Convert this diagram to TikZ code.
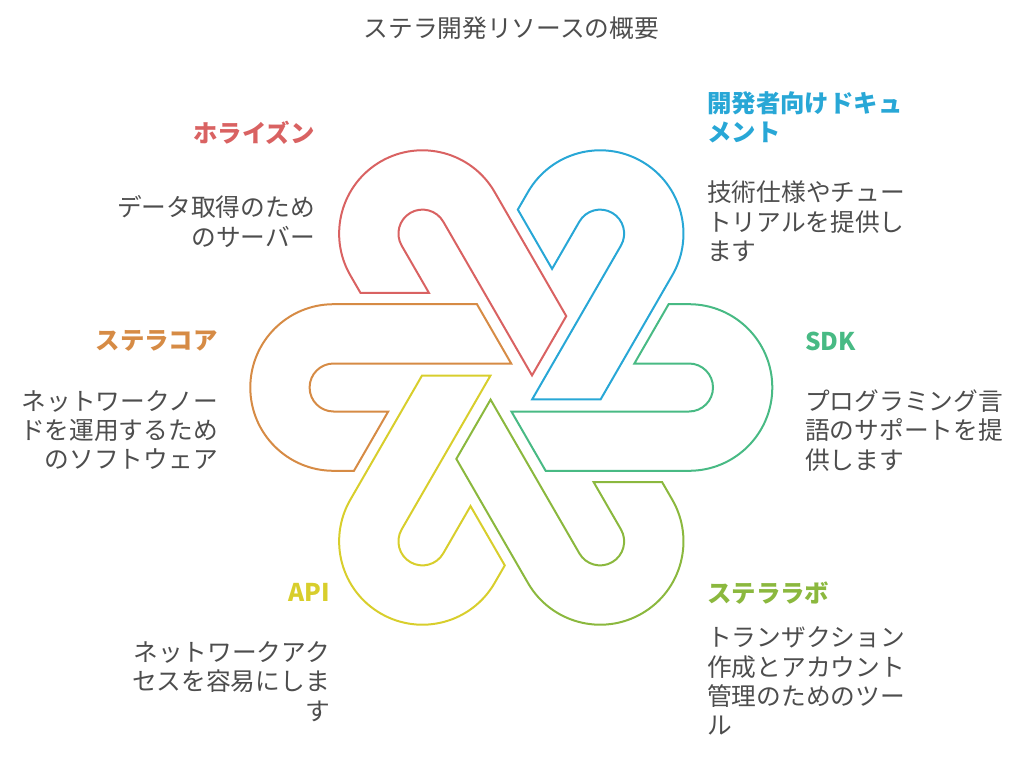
\documentclass[tikz,border=0pt]{standalone}
\usepackage{fontspec}
\newfontfamily\jpfont{Noto Sans CJK JP}
\definecolor{cred}{HTML}{D96262}
\definecolor{cblue}{HTML}{28A7D6}
\definecolor{cgreen}{HTML}{48BA84}
\definecolor{clime}{HTML}{8BB83E}
\definecolor{cyellow}{HTML}{D8CE2C}
\definecolor{corange}{HTML}{D68B45}
\definecolor{textgray}{HTML}{4D4D4D}
\tikzset{
  hookline/.style={line width=2pt},
  lab/.style={font=\jpfont\bfseries\fontsize{24.4}{29.3}\selectfont, inner sep=0pt},
  desc/.style={font=\jpfont\fontsize{24.7}{29.3}\selectfont, text=textgray, inner sep=0pt}
}
\newcommand\hookshape[2]{%
  \draw[hookline,#1,rotate=#2] (-34.35,83.3) -- (-177.7,83.3)
    arc[start angle=90,end angle=270,radius=83.3] -- (-157.33,-83.3) -- (-123.1,-24) -- (-177.7,-24)
    arc[start angle=270,end angle=90,radius=24] -- (-0.12,24) -- cycle;}
\begin{document}
\begin{tikzpicture}[x=1pt,y=1pt]
\useasboundingbox (-511.3,-368.5) rectangle (512.7,387.5);
\hookshape{corange}{0}
\hookshape{cred}{-60}
\hookshape{cblue}{-120}
\hookshape{cgreen}{-180}
\hookshape{clime}{-240}
\hookshape{cyellow}{-300}
\node[desc, anchor=center] (title) at (0,359.5) {ステラ開発リソースの概要};
\node[lab, text=cred, anchor=east] (hlab) at (-196.3,254.5) {ホライズン};
\node[desc, anchor=east, align=right] (hdesc) at (-196.3,166) {データ取得のため\\のサーバー};
\node[lab, text=cblue, anchor=west, align=left] (dlab) at (195.7,270.5) {開発者向けドキュ\\メント};
\node[desc, anchor=west, align=left] (ddesc) at (195.7,166) {技術仕様やチュー\\トリアルを提供し\\ます};
\node[lab, text=corange, anchor=east] (clab) at (-293.3,47) {ステラコア};
\node[desc, anchor=east, align=right] (cdesc) at (-293.3,-42.5) {ネットワークノー\\ドを運用するため\\のソフトウェア};
\node[lab, text=cgreen, anchor=west] (slab) at (293.7,46) {SDK};
\node[desc, anchor=west, align=left] (sdesc) at (293.7,-43) {プログラミング言\\語のサポートを提\\供します};
\node[lab, text=cyellow, anchor=east] (alab) at (-181.3,-204.5) {API};
\node[desc, anchor=east, align=right] (adesc) at (-181.3,-294) {ネットワークアク\\セスを容易にしま\\す};
\node[lab, text=clime, anchor=west] (llab) at (195.7,-205.5) {ステララボ};
\node[desc, anchor=west, align=left] (ldesc) at (195.7,-293.5) {トランザクション\\作成とアカウント\\管理のためのツー\\ル};
\end{tikzpicture}
\end{document}
